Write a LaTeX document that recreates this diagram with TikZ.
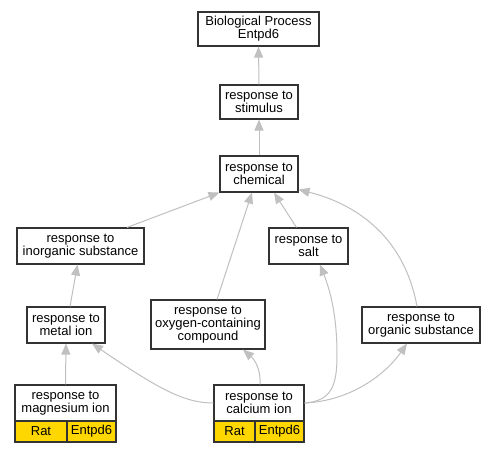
\documentclass[tikz,border=0pt]{standalone}
\usepackage{fontspec}
\setmainfont{Liberation Sans}
\usetikzlibrary{arrows.meta}
\definecolor{edgegray}{HTML}{C0C0C0}
\definecolor{boxline}{HTML}{333333}
\definecolor{gold}{HTML}{FFD700}
\begin{document}
\begin{tikzpicture}[x=1pt,y=-1pt,
  every node/.style={font=\fontsize{13}{12.8}\selectfont},
  gobox/.style={draw=boxline,line width=1.1pt,fill=white,align=center,inner sep=0pt,rectangle},
  cell/.style={draw=boxline,line width=1.1pt,fill=gold,inner sep=0pt,rectangle},
  edge/.style={draw=edgegray,line width=1pt,-{Triangle[length=11pt,width=9pt]}}]
\useasboundingbox (0,0) rectangle (493,453);
\fill[white] (0,0) rectangle (493,453);
% nodes
\node[gobox,minimum width=121pt,minimum height=34pt] (bp) at (258.5,29) {Biological Process\\Entpd6};
\node[gobox,minimum width=78pt,minimum height=34pt] (stim) at (259,102) {response to\\stimulus};
\node[gobox,minimum width=78pt,minimum height=36pt] (chem) at (259,174) {response to\\chemical};
\node[gobox,minimum width=127pt,minimum height=36pt] (inorg) at (80.5,246) {response to\\inorganic substance};
\node[gobox,minimum width=79pt,minimum height=36pt] (salt) at (308.5,246) {response to\\salt};
\node[gobox,minimum width=78pt,minimum height=36pt] (metal) at (66,325) {response to\\metal ion};
\node[gobox,minimum width=114pt,minimum height=49pt] (oxy) at (208,324.5) {response to\\oxygen-containing\\compound};
\node[gobox,minimum width=118pt,minimum height=36pt] (org) at (421,325) {response to\\organic substance};
\node[gobox,minimum width=101pt,minimum height=36pt] (mag) at (65.5,403) {response to\\magnesium ion};
\node[cell,minimum width=52pt,minimum height=21pt] (magrat) at (41,431.5) {Rat};
\node[cell,minimum width=49pt,minimum height=21pt] (maggene) at (91.5,431.5) {Entpd6};
\node[gobox,minimum width=90pt,minimum height=36pt] (cal) at (259,403) {response to\\calcium ion};
\node[cell,minimum width=41pt,minimum height=21pt] (calrat) at (234.5,431.5) {Rat};
\node[cell,minimum width=49pt,minimum height=21pt] (calgene) at (279.5,431.5) {Entpd6};
% edges
\draw[edge] (stim.north) -- (bp.south);
\draw[edge] (chem.north) -- (stim.south);
\draw[edge] ([xshift=46.5pt]inorg.north) -- (chem.south west);
\draw[edge] ([xshift=9pt]oxy.north) -- ([xshift=-7pt]chem.south);
\draw[edge] ([xshift=-12pt]salt.north) -- ([xshift=15pt]chem.south);
\draw[edge] ([xshift=-4pt]org.north) .. controls (405,240) and (360,205) .. ([yshift=3pt]chem.south east);
\draw[edge] ([xshift=4pt]metal.north) -- ([xshift=-3pt]inorg.south);
\draw[edge] (mag.north) -- (metal.south);
\draw[edge] (cal.west) .. controls (185,403) and (160,390) .. ([xshift=26pt]metal.south);
\draw[edge] ([xshift=1pt]cal.north) .. controls (261,370) and (255,360) .. ([xshift=35pt]oxy.south);
\draw[edge] (cal.east) .. controls (332,401) and (337,385) .. (337,355) .. controls (337,315) and (330,290) .. ([xshift=11.5pt]salt.south);
\draw[edge] (cal.east) .. controls (350,401) and (385,375) .. ([xshift=-14pt]org.south);
\end{tikzpicture}
\end{document}
